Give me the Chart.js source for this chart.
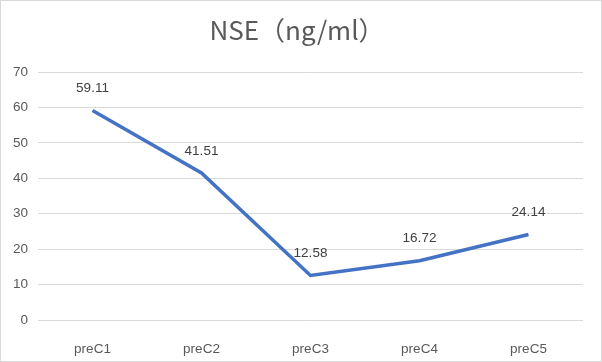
<!DOCTYPE html>
<html>
<head>
<meta charset="utf-8">
<script src="https://cdn.jsdelivr.net/npm/chart.js@4"></script>
<style>
  body { margin: 0; background: #fff; }
  #wrap { width: 602px; height: 362px; }
</style>
</head>
<body>
<div id="wrap"><canvas id="chart" width="602" height="362"></canvas></div>
<script>
const categories = ["preC1", "preC2", "preC3", "preC4", "preC5"];
const values = [59.11, 41.51, 12.58, 16.72, 24.14];
const yTicks = [0, 10, 20, 30, 40, 50, 60, 70];
const titleText = "NSE（ng/ml）";

const fontFamily = "'Noto Sans CJK SC', 'Liberation Sans', sans-serif";
const tickFont = "'Liberation Sans', Arial, sans-serif";

const frameAndLabels = {
  id: "frameAndLabels",
  beforeDraw: (chart) => {
    const ctx = chart.ctx;
    ctx.save();
    ctx.fillStyle = "#fff";
    ctx.fillRect(0, 0, chart.width, chart.height);
    ctx.strokeStyle = "#d9d9d9";
    ctx.lineWidth = 1;
    ctx.strokeRect(0.5, 0.5, chart.width - 1, chart.height - 1);
    ctx.fillStyle = "#595959";
    ctx.font = "26px " + fontFamily;
    ctx.textAlign = "center";
    ctx.textBaseline = "middle";
    ctx.fillText(titleText, 297, 30);
    ctx.restore();
  },
  afterDatasetsDraw: (chart) => {
    const ctx = chart.ctx;
    const meta = chart.getDatasetMeta(0);
    ctx.save();
    ctx.fillStyle = "#404040";
    ctx.font = "13.5px " + tickFont;
    ctx.textAlign = "center";
    ctx.textBaseline = "middle";
    meta.data.forEach((pt, i) => {
      ctx.fillText(values[i].toFixed(2), pt.x, pt.y - 22);
    });
    ctx.restore();
  },
};

new Chart(document.getElementById("chart"), {
  type: "line",
  data: {
    labels: categories,
    datasets: [
      {
        data: values,
        borderColor: "#4472C4",
        borderWidth: 3.5,
        pointRadius: 0,
        tension: 0,
        fill: false,
      },
    ],
  },
  options: {
    responsive: false,
    animation: false,
    layout: {
      padding: { top: 72, right: 19, bottom: 0, left: 0 },
    },
    scales: {
      x: {
        offset: true,
        grid: { display: false },
        border: { display: false },
        ticks: {
          color: "#595959",
          padding: 13,
          font: { size: 13.5, family: tickFont },
        },
        afterFit: (scale) => {
          scale.height = 42;
        },
      },
      y: {
        min: 0,
        max: 70,
        afterBuildTicks: (scale) => {
          scale.ticks = yTicks.map((v) => ({ value: v }));
        },
        grid: { color: "#d9d9d9", drawTicks: false },
        border: { display: false },
        ticks: {
          color: "#595959",
          padding: 10,
          font: { size: 13.5, family: tickFont },
        },
        afterFit: (scale) => {
          scale.width = 38;
        },
      },
    },
    plugins: {
      legend: { display: false },
      title: { display: false },
      tooltip: { enabled: false },
    },
  },
  plugins: [frameAndLabels],
});
</script>
</body>
</html>
